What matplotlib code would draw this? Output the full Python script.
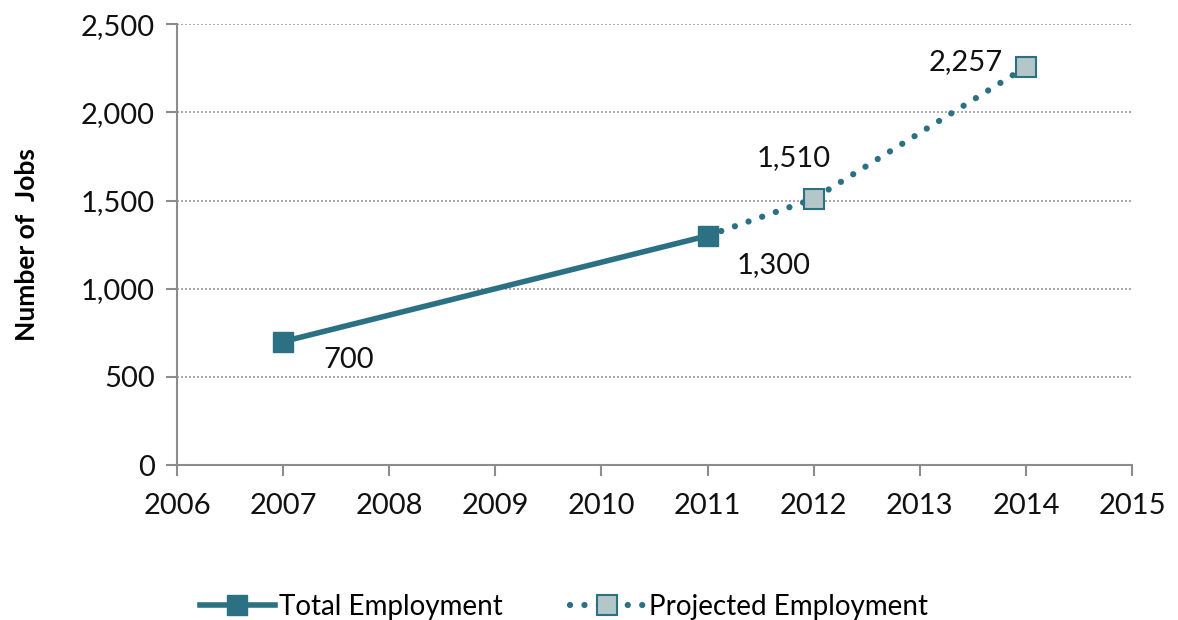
import matplotlib

matplotlib.use("Agg")
import matplotlib.pyplot as plt

# employment series
total_years = [2007, 2011]
total_jobs = [700, 1300]
proj_years = [2011, 2012, 2014]
proj_jobs = [1300, 1510, 2257]

# value labels: (year, jobs, text offset in data units)
labels = [
    (2007, 700, 0.62, -105),
    (2011, 1300, 0.62, -166),
    (2012, 1510, -0.19, 230),
    (2014, 2257, -0.57, 28),
]

TEAL = "#2C7084"
PALE = "#B3C6C8"
GREY = "#8C8C8C"

plt.rcParams["font.family"] = ["Lato", "DejaVu Sans"]

fig = plt.figure(figsize=(11.78, 6.2), dpi=100)
ax = fig.add_axes([0.1503, 0.25, 0.8107, 0.711])

ax.plot(total_years, total_jobs, "-", color=TEAL, lw=4, marker="s", ms=15,
        mfc=TEAL, mec=TEAL, label="Total Employment", zorder=3)
ax.plot(proj_years, proj_jobs, color=TEAL, lw=4.5, ls=(0, (0.01, 2.3)),
        dash_capstyle="round", marker="s", ms=15,
        mfc=PALE, mec=TEAL, mew=1.5, markevery=[1, 2],
        label="Projected Employment", zorder=2)

for x, y, dx, dy in labels:
    ax.text(x + dx, y + dy, f"{y:,}", ha="center", va="center", fontsize=21,
            color="#111111")

ax.set_xlim(2006, 2015)
ax.set_ylim(0, 2500)
ax.set_xticks(range(2006, 2016))
ax.set_yticks(range(0, 2501, 500))
ax.yaxis.set_major_formatter(matplotlib.ticker.FuncFormatter(lambda v, _: f"{int(v):,}"))
ax.tick_params(axis="both", labelsize=21, colors=GREY, labelcolor="#111111",
               length=8, width=1.5, direction="out")
ax.tick_params(axis="x", pad=12)
ax.tick_params(axis="y", pad=8)

ax.grid(axis="y", linestyle=(0, (1.2, 1.2)), color="#9A9A9A", lw=1.2)
ax.set_axisbelow(True)
for side in ("top", "right"):
    ax.spines[side].set_visible(False)
for side in ("left", "bottom"):
    ax.spines[side].set_color(GREY)
    ax.spines[side].set_linewidth(1.5)

ax.set_ylabel("Number of  Jobs", fontsize=19, fontweight="bold", labelpad=30)

ax.legend(loc="upper center", bbox_to_anchor=(0.405, -0.235), ncol=2, frameon=False,
          fontsize=20, handlelength=2.7, columnspacing=2.4, handletextpad=0.15)

fig.savefig("out.png", dpi=100)
